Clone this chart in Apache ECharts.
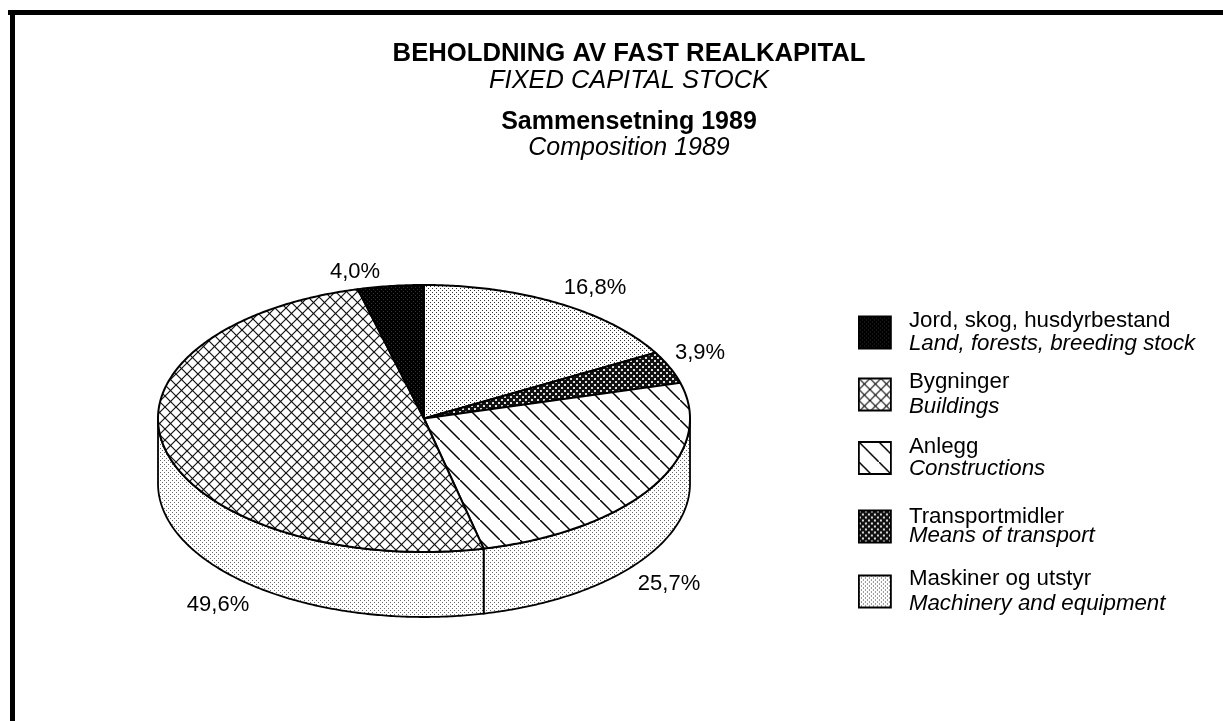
<!DOCTYPE html>
<html><head><meta charset="utf-8">
<style>html,body{margin:0;padding:0;background:#fff}#c{width:1223px;height:721px}</style>
<script src="https://cdn.jsdelivr.net/npm/echarts@6/dist/echarts.min.js"></script>
</head><body><div id="c"></div>
<script>
// ---- data ----
var sliceNames = ['Maskiner og utstyr','Transportmidler','Anlegg','Bygninger','Jord, skog, husdyrbestand'];
var sliceValues = [16.8, 3.9, 25.7, 49.6, 4.0];
var sliceLabels = ['16,8%','3,9%','25,7%','49,6%','4,0%'];
var legendOrder = ['Jord, skog, husdyrbestand','Bygninger','Anlegg','Transportmidler','Maskiner og utstyr'];
var legendEnglish = ['Land, forests, breeding stock','Buildings','Constructions','Means of transport','Machinery and equipment'];

// ---- look ----
var FONT = '"Liberation Sans", Arial, Helvetica, sans-serif';
var geo = {cx:424, cy:418.5, rx:266, ry:133.5, depth:65};
var labelAt = {'16,8%':[595,288],'3,9%':[700,353],'25,7%':[669,584],'49,6%':[218,605],'4,0%':[355,272]};
var legendLayout = [{top:310,lh:23},{top:371,lh:25},{top:436,lh:22},{top:506,lh:19},{top:568,lh:25}];

function tile(size, draw){
  var c = document.createElement('canvas'); c.width = c.height = size;
  var g = c.getContext('2d'); draw(g, size); return c;
}
function pat(size, draw){ return {image: tile(size, draw), repeat:'repeat'}; }
var dotsFine = pat(4, function(g){ g.fillStyle='#fff'; g.fillRect(0,0,4,4); g.fillStyle='#333'; g.fillRect(0,0,1,1); g.fillRect(2,2,1,1); });
var dotsWall = pat(4, function(g){ g.fillStyle='#fff'; g.fillRect(0,0,4,4); g.fillStyle='#666'; g.fillRect(0,0,1,1); g.fillRect(2,2,1,1); });
var solidDark = pat(4, function(g){ g.fillStyle='#000'; g.fillRect(0,0,4,4); g.fillStyle='#333'; g.fillRect(1,1,1,1); g.fillRect(3,3,1,1); });
var transport = pat(6, function(g){ g.fillStyle='#111'; g.fillRect(0,0,6,6); g.fillStyle='#ddd'; g.fillRect(0,0,2,2); g.fillRect(3,3,2,2); });
function diag(g,s,dir){ g.beginPath();
  if(dir>0){ g.moveTo(-1,-1); g.lineTo(s+1,s+1);} else { g.moveTo(-1,s+1); g.lineTo(s+1,-1);} g.stroke(); }
var cross = pat(11, function(g,s){ g.fillStyle='#fff'; g.fillRect(0,0,s,s); g.strokeStyle='#111'; g.lineWidth=1.2; diag(g,s,1); diag(g,s,-1); });
var hatch = pat(20, function(g,s){ g.fillStyle='#fff'; g.fillRect(0,0,s,s); g.strokeStyle='#000'; g.lineWidth=1.5; diag(g,s,1); });
var fills = {'Maskiner og utstyr':dotsFine,'Transportmidler':transport,'Anlegg':hatch,'Bygninger':cross,'Jord, skog, husdyrbestand':solidDark};

function ept(a, dy){ return [geo.cx + geo.rx*Math.sin(a), geo.cy - geo.ry*Math.cos(a) + (dy||0)]; }
function arc(a0, a1, dy){ var n = Math.max(2, Math.ceil(Math.abs(a1-a0)/0.01)), out = [];
  for(var i=0;i<=n;i++) out.push(ept(a0+(a1-a0)*i/n, dy)); return out; }
var total = sliceValues.reduce(function(a,b){return a+b;},0);

function sliceRender(idx){
  return function(params, api){
    var v = api.value(0), before = 0;
    for(var i=0;i<idx;i++) before += sliceValues[i];
    var a0 = before/total*2*Math.PI, a1 = (before+v)/total*2*Math.PI, kids = [];
    var w0 = Math.max(a0, Math.PI/2), w1 = Math.min(a1, Math.PI*3/2);
    if(w1 > w0){
      kids.push({type:'polygon', shape:{points: arc(w0,w1,0).concat(arc(w1,w0,geo.depth))},
        style:{fill:dotsWall, stroke:'#000', lineWidth:1.8}});
    }
    kids.push({type:'polygon', shape:{points: [[geo.cx,geo.cy]].concat(arc(a0,a1,0))},
      style:{fill:fills[sliceNames[idx]], stroke:'#000', lineWidth:2, lineJoin:'round'}});
    var p = labelAt[sliceLabels[idx]];
    kids.push({type:'text', style:{text:sliceLabels[idx], x:p[0], y:p[1], fill:'#000',
      font:'22px '+FONT, textAlign:'center', textVerticalAlign:'middle'}});
    return {type:'group', children:kids};
  };
}
var series = sliceNames.map(function(n,i){
  return {type:'custom', name:n, coordinateSystem:'none', silent:true, animation:false, data:[[sliceValues[i]]], renderItem:sliceRender(i)};
});

var option = {
  animation:false, backgroundColor:'#fff',
  title:[
    {text:'BEHOLDNING AV FAST REALKAPITAL', subtext:'FIXED CAPITAL STOCK', left:624, top:36, textAlign:'center', itemGap:1,
     textStyle:{fontFamily:FONT,fontSize:25.7,fontWeight:'bold',color:'#000'},
     subtextStyle:{fontFamily:FONT,fontSize:25.4,fontStyle:'italic',color:'#000'}},
    {text:'Sammensetning 1989', subtext:'Composition 1989', left:624, top:105, textAlign:'center', itemGap:1,
     textStyle:{fontFamily:FONT,fontSize:25,fontWeight:'bold',color:'#000'},
     subtextStyle:{fontFamily:FONT,fontSize:25,fontStyle:'italic',color:'#000'}}
  ],
  legend: legendOrder.map(function(n,i){
    var L = legendLayout[i];
    return {
      orient:'vertical', left:858, top:L.top, itemWidth:32, itemHeight:32, padding:0, selectedMode:false,
      data:[{name:n, icon:'rect', itemStyle:{color:fills[n], borderColor:'#000', borderWidth:1.8, decal:'none'}}],
      formatter:function(name){ return '{a|'+name+'}\n{b|'+legendEnglish[i]+'}'; },
      textStyle:{padding:[0,0,0,13], rich:{
        a:{fontFamily:FONT,fontSize:22.3,lineHeight:L.lh,color:'#000'},
        b:{fontFamily:FONT,fontSize:22.3,fontStyle:'italic',lineHeight:L.lh,color:'#000'}}}
    };
  }),
  graphic:[
    {type:'line', silent:true, shape:{x1:8,y1:12.5,x2:1223,y2:12.5}, style:{stroke:'#000',lineWidth:5}},
    {type:'line', silent:true, shape:{x1:12.5,y1:10,x2:12.5,y2:721}, style:{stroke:'#000',lineWidth:5}}
  ],
  series:series
};
echarts.init(document.getElementById('c')).setOption(option);
</script></body></html>
